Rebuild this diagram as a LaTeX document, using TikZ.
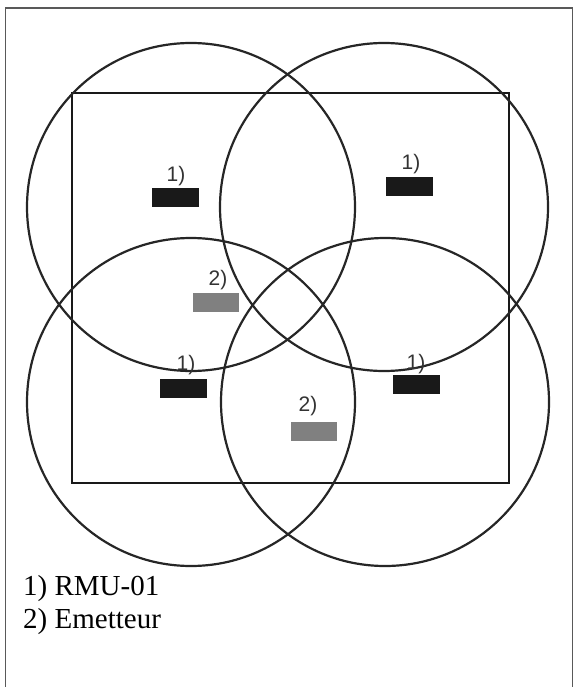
\documentclass[tikz,border=0pt]{standalone}
\usepackage{fontspec}
\setmainfont{Liberation Serif}
\newfontfamily\labfont{Liberation Sans}
\begin{document}
\begin{tikzpicture}[x=1pt,y=-1pt,
  cover/.style={draw=black!85,line width=2.2pt},
  rmu/.style={fill=black!90,draw=none,minimum width=47pt,minimum height=19pt,inner sep=0pt},
  emit/.style={fill=black!50,draw=none,minimum width=46pt,minimum height=19pt,inner sep=0pt},
  lab/.style={font=\labfont\fontsize{21}{23}\selectfont,text=black!80,inner sep=0pt,anchor=base},
  legend/.style={font=\fontsize{29}{33}\selectfont,inner sep=0pt,anchor=base west}]
\useasboundingbox (0,0) rectangle (576,687);
% outer frame
\coordinate (fbl) at (5.5,690);
\coordinate (ftl) at (5.5,8);
\coordinate (ftr) at (572.5,8);
\coordinate (fbr) at (572.5,690);
\draw[black!65,line width=1.8pt] (fbl) -- (ftl) -- (ftr) -- (fbr);
% inner area
\coordinate (sq1) at (72,93);
\coordinate (sq2) at (509,483);
\draw[black!90,line width=2.8pt] (sq1) rectangle (sq2);
% coverage circles
\coordinate (c1) at (191,207);
\coordinate (c2) at (384,207);
\coordinate (c3) at (191,402);
\coordinate (c4) at (385,402);
\draw[cover] (c1) circle[radius=164];
\draw[cover] (c2) circle[radius=164];
\draw[cover] (c3) circle[radius=164];
\draw[cover] (c4) circle[radius=164];
% RMU-01 units
\node[rmu] (r1) at (175.5,197.5) {};
\node[rmu] (r2) at (409,186) {};
\node[rmu] (r3) at (183,388) {};
\node[rmu] (r4) at (416,384.5) {};
\node[lab] (l1) at (176,181) {1)};
\node[lab] (l2) at (411,170) {1)};
\node[lab] (l3) at (186,370) {1)};
\node[lab] (l4) at (416,369) {1)};
% emitters
\node[emit] (e1) at (215.5,302) {};
\node[emit] (e2) at (313.5,431) {};
\node[lab] (l5) at (218,285) {2)};
\node[lab] (l6) at (308,411) {2)};
% legend
\node[legend] (leg1) at (23,595) {1) RMU-01};
\node[legend] (leg2) at (23,628) {2) Emetteur};
\end{tikzpicture}
\end{document}
